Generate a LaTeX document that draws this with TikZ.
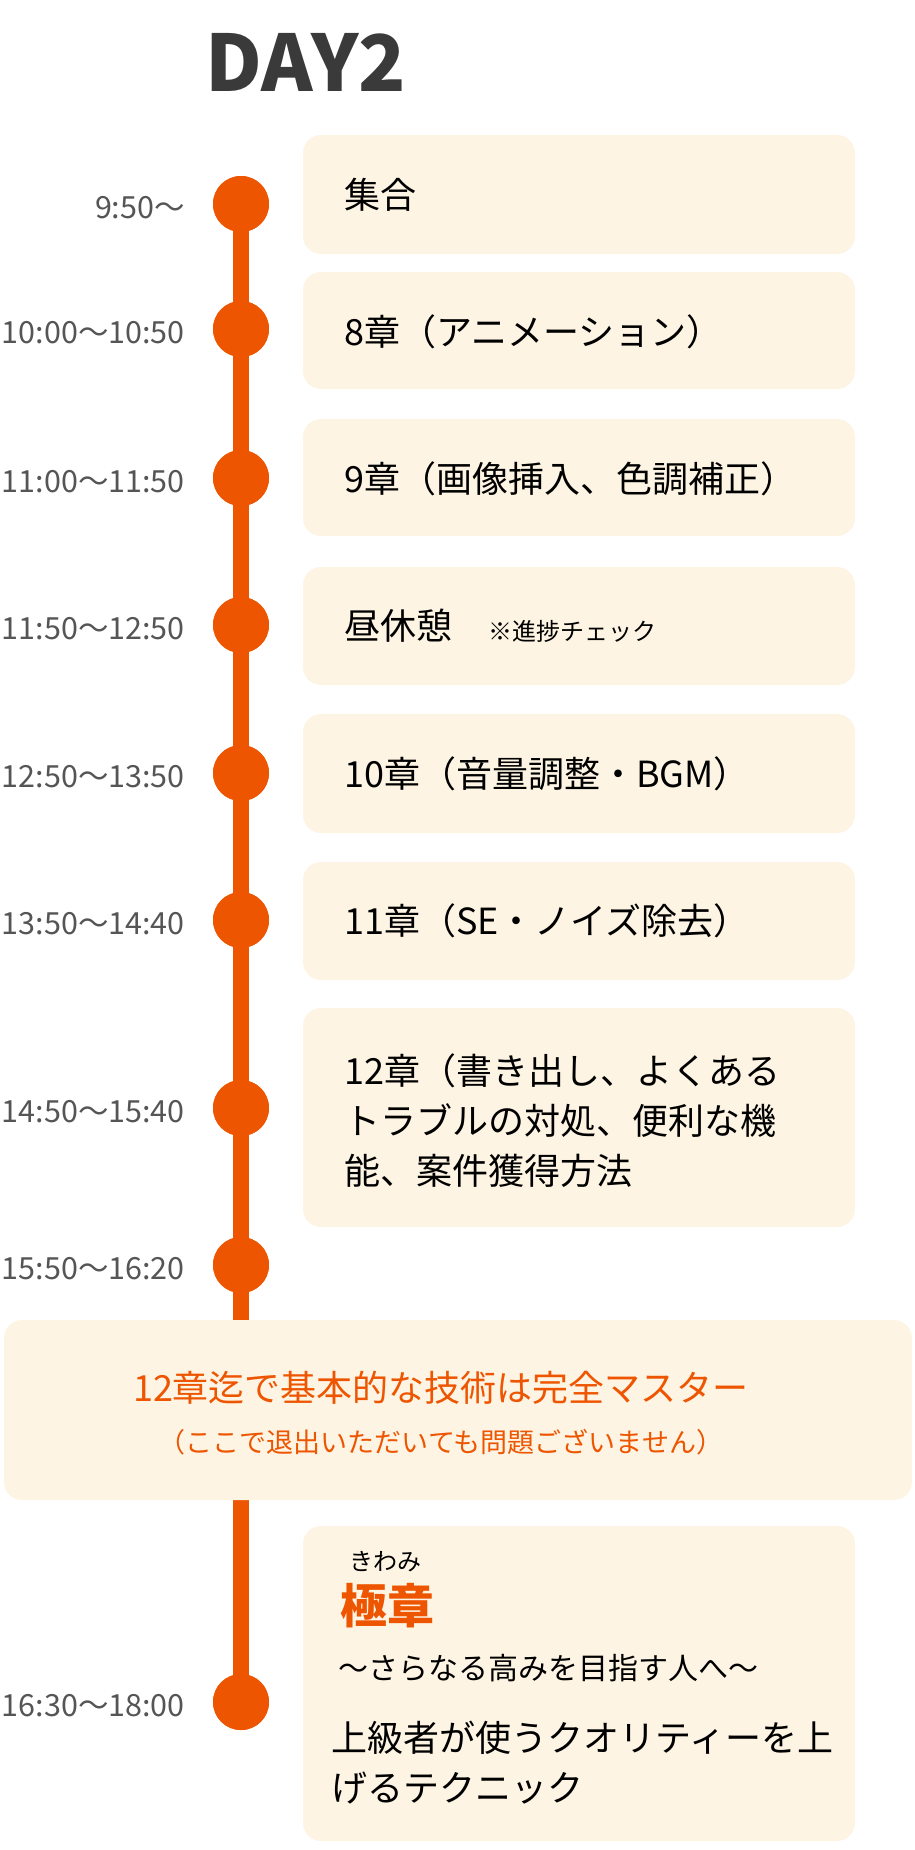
\documentclass[tikz,border=0pt]{standalone}
\usepackage{fontspec}
\setmainfont{Noto Sans CJK JP}
\definecolor{orng}{HTML}{EE5500}
\definecolor{boxbg}{HTML}{FDF4E3}
\definecolor{tgray}{HTML}{555555}
\definecolor{dgray}{HTML}{3A3A3A}
\begin{document}
\begin{tikzpicture}[x=1pt,y=-1pt,
  card/.style={fill=boxbg,rounded corners=18pt},
  dot/.style={circle,fill=orng,minimum size=56pt,inner sep=0pt},
  tlabel/.style={anchor=east,text=tgray,font=\fontsize{30.5}{32}\selectfont,inner sep=0pt},
  btext/.style={anchor=west,font=\fontsize{36}{50}\selectfont,inner sep=0pt,align=left}]
\useasboundingbox (0,0) rectangle (914,1850);
\node[text=dgray,font=\bfseries\fontsize{78}{80}\selectfont] (title) at (306,62) {DAY2};
\foreach \n/\y in {1/204,2/329,3/478,4/625,5/773,6/920,7/1108,8/1265,9/1702}
  \node[dot] (d\n) at (241,\y) {};
\draw[orng,line width=16pt] (d1.center) -- (d9.center);
\foreach \n in {1,...,9} \node[dot] at (d\n) {};
\foreach \n/\a/\b in {1/135/254,2/272/389,3/419/536,4/567/685,5/714/833,6/862/980,7/1008/1227,9/1526/1841}
  \fill[card] (303,\a) rectangle (855,\b);
\fill[card] (4,1320) rectangle (912,1500);
\node[tlabel] (t1) at (185,208) {9:50〜};
\node[tlabel] (t2) at (185,333) {10:00〜10:50};
\node[tlabel] (t3) at (185,482) {11:00〜11:50};
\node[tlabel] (t4) at (185,629) {11:50〜12:50};
\node[tlabel] (t5) at (185,777) {12:50〜13:50};
\node[tlabel] (t6) at (185,924) {13:50〜14:40};
\node[tlabel] (t7) at (185,1112) {14:50〜15:40};
\node[tlabel] (t8) at (185,1269) {15:50〜16:20};
\node[tlabel] (t9) at (185,1706) {16:30〜18:00};
\node[btext] (b1) at (344,195) {集合};
\node[btext] (b2) at (344,332) {8章（アニメーション）};
\node[btext] (b3) at (344,479) {9章（画像挿入、色調補正）};
\node[btext] (b4) at (344,626) {昼休憩};
\node[anchor=west,font=\fontsize{24}{26}\selectfont,inner sep=0pt] (b4s) at (488,631) {※進捗チェック};
\node[btext] (b5) at (344,774) {10章（音量調整・BGM）};
\node[btext] (b6) at (344,921) {11章（SE・ノイズ除去）};
\node[btext] (b7) at (344,1121) {12章（書き出し、よくある\\トラブルの対処、便利な機\\能、案件獲得方法};
\node[text=orng,font=\fontsize{36}{38}\selectfont] (m1) at (441,1388) {12章迄で基本的な技術は完全マスター};
\node[text=orng,font=\fontsize{27}{29}\selectfont] (m2) at (441,1442) {（ここで退出いただいても問題ございません）};
\node[anchor=west,font=\fontsize{24}{26}\selectfont,inner sep=0pt] (k1) at (349,1562) {きわみ};
\node[anchor=west,text=orng,font=\bfseries\fontsize{47}{50}\selectfont,inner sep=0pt] (k2) at (340,1606) {極章};
\node[anchor=west,font=\fontsize{30}{32}\selectfont,inner sep=0pt] (k3) at (338,1668) {〜さらなる高みを目指す人へ〜};
\node[btext] (k4) at (331,1763) {上級者が使うクオリティーを上\\げるテクニック};
\end{tikzpicture}
\end{document}
